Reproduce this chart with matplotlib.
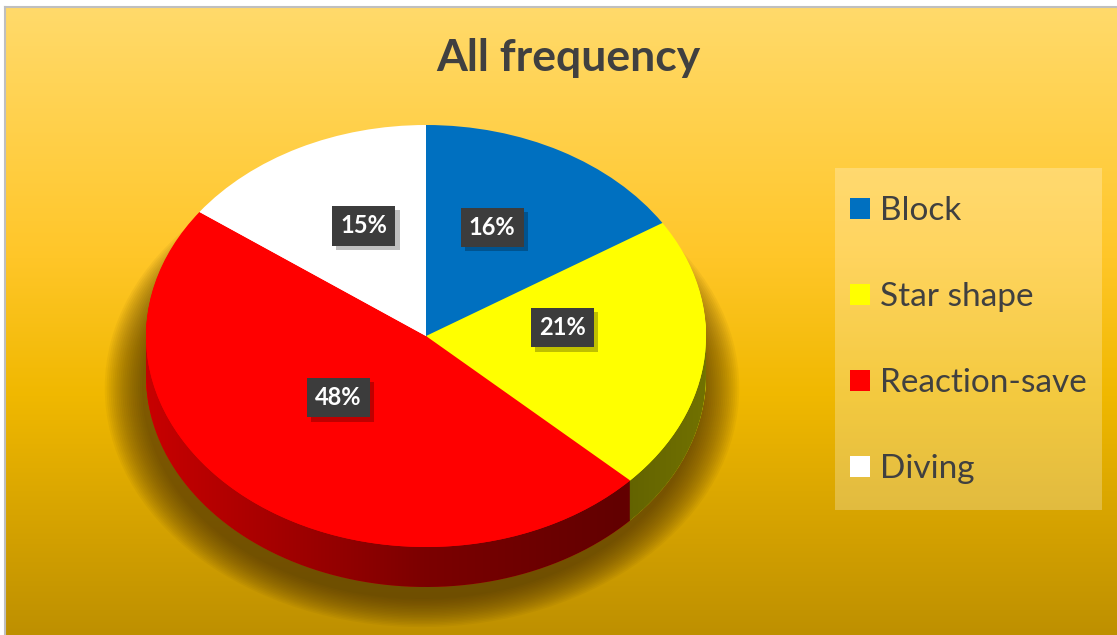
import numpy as np
import matplotlib
matplotlib.use('Agg')
import matplotlib.pyplot as plt
import matplotlib.patheffects as pe
from matplotlib.transforms import Affine2D
from matplotlib.path import Path
from matplotlib.patches import Ellipse, Rectangle
from matplotlib.colors import LinearSegmentedColormap

# Data
labels = ['Block', 'Star shape', 'Reaction-save', 'Diving']
values = [16, 21, 48, 15]
colors = ['#0070C0', '#FFFF00', '#FF0000', '#FFFFFF']
title = 'All frequency'

W, H = 1117, 635
plt.rcParams['font.family'] = ['Lato', 'DejaVu Sans']

fig = plt.figure(figsize=(W / 100, H / 100), dpi=100)
fig.patch.set_facecolor('white')
ax = fig.add_axes([0, 0, 1, 1])

# background gradient
bg = LinearSegmentedColormap.from_list('bg', [(0, '#FFDA6B'), (0.4, '#FFC628'),
                                              (0.62, '#F0B800'), (1, '#BE9000')])
ax.imshow(np.linspace(0, 1, 256).reshape(-1, 1), cmap=bg, extent=(6, W, H, 7),
          aspect='auto', zorder=0)
ax.plot([5, 5], [7, H], color='#BFBFBF', lw=1.5, zorder=1)
ax.plot([5, W], [7, 7], color='#BFBFBF', lw=1.5, zorder=1)

# pie geometry (pixel coords)
cx, cy = 426, 336
rx, ry = 280, 211
depth = 40


def ell(dy=0, yc=None):
    yc = cy if yc is None else yc
    return Affine2D().scale(rx, -ry).translate(cx, yc + dy) + ax.transData


# soft shadow under the pie
for k in range(20):
    s = 1.0 + 0.007 * k
    ax.add_patch(Ellipse((cx - 4, cy + depth + 12), 2 * rx * s, 2 * ry * s,
                         fc='#4a3000', alpha=0.05, lw=0, zorder=2))

# side of the pie: stacked layers
for dy in range(depth, 0, -1):
    w, _ = ax.pie(values, colors=colors, startangle=90, counterclock=False,
                  wedgeprops=dict(linewidth=0))
    for p in w:
        p.set_transform(ell(dy))
        p.set_zorder(3)

# darken the side with a horizontal gradient
t = np.linspace(np.pi, 2 * np.pi, 200)
top = np.column_stack([cx + rx * np.cos(t), cy - ry * np.sin(t)])
bot = np.column_stack([cx + rx * np.cos(t[::-1]), cy + depth - ry * np.sin(t[::-1])])
band = Path(np.vstack([top, bot, top[:1]]))
xs = np.linspace(0, 1, 256)
alpha = np.interp(xs, [0, 0.5, 0.85, 1], [0.22, 0.52, 0.62, 0.56])
shade = np.zeros((1, 256, 4))
shade[..., 3] = alpha
im = ax.imshow(shade, extent=(cx - rx, cx + rx, cy + ry + depth, cy - ry),
               aspect='auto', zorder=4)
im.set_clip_path(band, ax.transData)

# top face
wedges, _, autotexts = ax.pie(values, colors=colors, startangle=90, counterclock=False,
                              autopct='%1.0f%%', pctdistance=0.49,
                              wedgeprops=dict(linewidth=0))
for p in wedges:
    p.set_transform(ell(0))
    p.set_zorder(5)
for a in autotexts:
    a.set_transform(ell(0, 318))
    a.set_zorder(7)
    a.set_color('white')
    a.set_fontsize(17)
    a.set_fontweight('bold')
    a.set_bbox(dict(boxstyle='square,pad=0.35', fc='#3c3c3c', lw=0))
    a.get_bbox_patch().set_path_effects([
        pe.SimplePatchShadow(offset=(3, -3), shadow_rgbFace='black', alpha=0.25),
        pe.Normal()])

# title
fig.text(568 / W, 1 - 58 / H, title, ha='center', va='center', fontsize=32,
         fontweight='bold', color='#404040')

# legend box and entries
ax.add_patch(Rectangle((835, 168), 267, 342, fc='white', alpha=0.25, lw=0, zorder=7))
leg = ax.legend(wedges, labels, loc='upper left',
                bbox_to_anchor=(850 / W, 1 - 196 / H),
                bbox_transform=fig.transFigure, borderaxespad=0, borderpad=0,
                fontsize=24, handlelength=0.6, handleheight=0.6, handletextpad=0.3,
                labelspacing=1.68, frameon=False)
for txt in leg.get_texts():
    txt.set_color('#404040')
leg.set_zorder(8)

ax.set_xlim(0, W)
ax.set_ylim(H, 0)
ax.set_aspect('auto')
ax.axis('off')

fig.savefig('out.png', dpi=100, facecolor='white')
